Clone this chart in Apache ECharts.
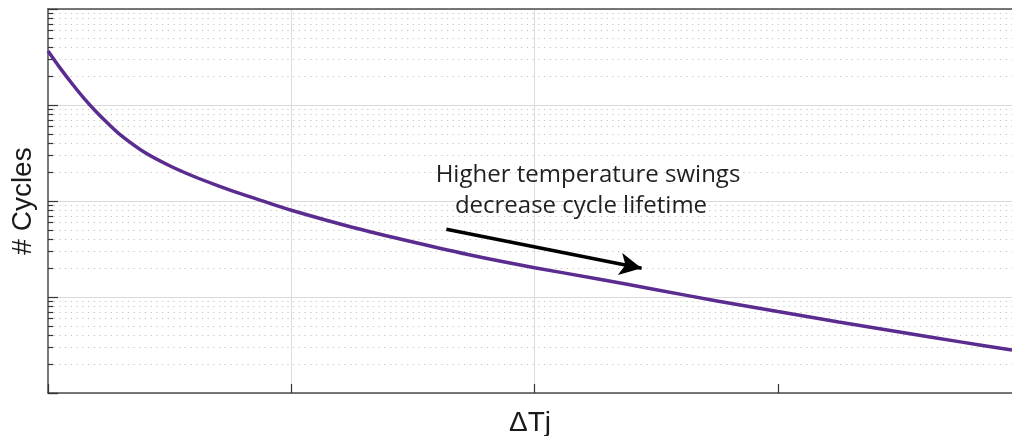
<!DOCTYPE html>
<html>
<head>
<meta charset="utf-8">
<script src="https://cdn.jsdelivr.net/npm/echarts@6/dist/echarts.min.js"></script>
<style>
html,body{margin:0;padding:0;background:#fff;}
#chart{width:1012px;height:436px;}
</style>
</head>
<body>
<div id="chart"></div>
<script>
// ---- data ----
const deltaTj = [0, 2, 4, 6, 8, 10, 12, 16, 20, 24, 28, 32, 36, 40, 50, 60, 70, 80, 90, 100, 110, 120, 130, 140, 150, 158.5];
const cycles = [3651000, 2423000, 1656000, 1158000, 839000, 630000, 484000, 318000, 233000, 180000, 144000, 117000, 96700, 80000,
                53300, 37400, 26900, 20200, 15600, 11900, 9100, 7050, 5490, 4320, 3410, 2800];
const xMin = 0, xMax = 158.5, xInterval = 40;
const xTickValues = [0, 40, 80, 120];
const decades = [1e3, 1e4, 1e5, 1e6];
const minorMultipliers = [2, 3, 4, 5, 6, 7, 8, 9];
const arrowStart = [65.5, 50700];
const arrowEnd = [97.6, 19900];
const annotationLines = ['Higher temperature swings', 'decrease cycle lifetime'];
const xName = 'ΔTj';
const yName = '# Cycles';

const minorValues = [];
decades.forEach(d => minorMultipliers.forEach(m => minorValues.push(d * m)));

const chart = echarts.init(document.getElementById('chart'));
const option = {
  animation: false,
  backgroundColor: '#ffffff',
  grid: { left: 48, top: 9, bottom: 43, right: 0, show: false, outerBoundsMode: 'none', containLabel: false },
  xAxis: [{
    type: 'value', min: xMin, max: xMax, interval: xInterval,
    name: xName, nameLocation: 'middle', nameGap: 16,
    nameTextStyle: { fontSize: 28, fontFamily: 'Liberation Sans', color: '#1a1a1a' },
    axisLine: { show: true, lineStyle: { color: '#4d4d4d', width: 1.5 } },
    axisTick: { show: true, inside: true, length: 9, customValues: xTickValues, lineStyle: { color: '#333', width: 1.2 } },
    axisLabel: { show: false },
    splitLine: { show: true, showMinLine: false, showMaxLine: false, lineStyle: { color: '#dcdcdc', width: 1 } }
  }, {
    type: 'value', position: 'top', min: xMin, max: xMax, interval: xInterval,
    axisLine: { show: true, onZero: false, lineStyle: { color: '#4d4d4d', width: 1.5 } },
    axisTick: { show: false }, axisLabel: { show: false }, splitLine: { show: false }
  }],
  yAxis: {
    type: 'log', logBase: 10, min: 1e3, max: 1e7,
    name: yName, nameLocation: 'middle', nameGap: 11,
    nameTextStyle: { fontSize: 28, fontFamily: 'Liberation Sans', color: '#1a1a1a' },
    axisLine: { show: true, lineStyle: { color: '#4d4d4d', width: 1.5 } },
    axisTick: { show: true, inside: true, length: 10, lineStyle: { color: '#333', width: 1.2 } },
    axisLabel: { show: false },
    splitLine: { show: true, lineStyle: { color: '#d9d9d9', width: 1 } }
  },
  graphic: [
    { type: 'text', x: 588, y: 175, z: 10,
      style: { text: annotationLines[0], x: 0, y: 0, align: 'center', verticalAlign: 'middle',
               font: '24px "Open Sans"', fill: '#1f1f1f' } },
    { type: 'text', x: 581, y: 206, z: 10,
      style: { text: annotationLines[1], x: 0, y: 0, align: 'center', verticalAlign: 'middle',
               font: '24px "Open Sans"', fill: '#1f1f1f' } }
  ],
  series: [
    {
      type: 'line', data: [], z: 1, silent: true,
      markLine: {
        silent: true, symbol: ['none', 'none'], label: { show: false },
        lineStyle: { color: '#c2c2c2', width: 1, type: [1.2, 4.5] },
        emphasis: { disabled: true },
        data: minorValues.map(v => ({ yAxis: v }))
      }
    },
    {
      type: 'line', data: [], z: 2, silent: true,
      markLine: {
        silent: true, symbol: ['none', 'none'], label: { show: false },
        lineStyle: { color: '#333', width: 1.2, type: 'solid' },
        emphasis: { disabled: true },
        data: minorValues.map(v => [{ coord: [0, v] }, { coord: [0.85, v] }])
      }
    },
    {
      type: 'line', z: 5,
      data: deltaTj.map((x, i) => [x, cycles[i]]),
      smooth: 0.3, showSymbol: false, symbol: 'none',
      lineStyle: { color: '#5B2C8F', width: 3.5 },
      markLine: {
        silent: true, symbol: ['none', 'arrow'], symbolSize: [17, 22], label: { show: false },
        lineStyle: { color: '#000', width: 3.5, type: 'solid' },
        emphasis: { disabled: true },
        data: [[{ coord: arrowStart }, { coord: arrowEnd }]]
      }
    }
  ]
};
chart.setOption(option);
</script>
</body>
</html>
